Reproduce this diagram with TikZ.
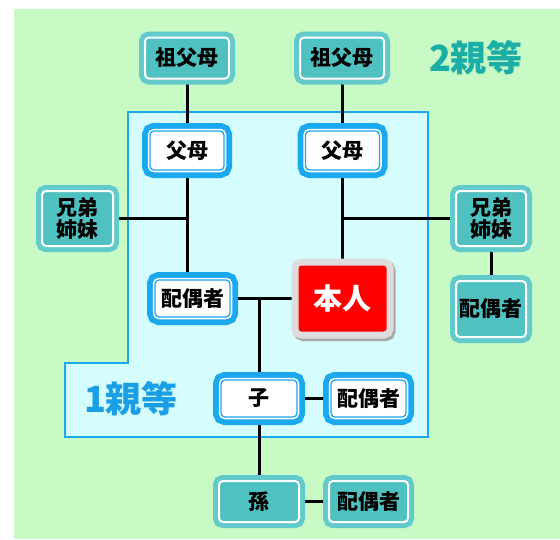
\documentclass[tikz,border=0pt]{standalone}
\usepackage{fontspec}
\newfontfamily\cjk{Noto Sans CJK JP}
\definecolor{bggreen}{HTML}{C8FAC6}
\definecolor{regcyan}{HTML}{D6FDFD}
\definecolor{regblue}{HTML}{1AA8EE}
\definecolor{tealout}{HTML}{62CACA}
\definecolor{tealin}{HTML}{50C1C1}
\definecolor{tealtxt}{HTML}{1AAEA6}
\definecolor{bluetxt}{HTML}{1A9EE6}
\definecolor{boxgray}{HTML}{DDDDDD}
\definecolor{shadowgray}{HTML}{A8A8A8}
\pgfdeclarelayer{bg}
\pgfsetlayers{bg,main}
\tikzset{
  lbl/.style={font=\cjk\bfseries\fontsize{21}{22}\selectfont, align=center, inner sep=0pt},
  tealbox/.style={lbl, rounded corners=4pt, fill=tealin, draw=white, line width=2pt,
    preaction={draw=tealout, line width=12pt}},
  bluebox/.style={lbl, rounded corners=4pt, fill=white, draw=regblue, line width=1.3pt,
    preaction={draw=regblue, line width=16pt},
    preaction={draw=white, line width=4.5pt}},
  selfbox/.style={font=\cjk\bfseries\fontsize{29}{30}\selectfont, text=white, inner sep=0pt,
    rounded corners=3pt, fill=red,
    preaction={draw=shadowgray, line width=14pt, transform canvas={xshift=2pt,yshift=-2.5pt}},
    preaction={draw=boxgray, line width=14pt}},
  conn/.style={line width=3pt, black},
  deg/.style={font=\cjk\bfseries\fontsize{36}{38}\selectfont, inner sep=0pt}
}
\begin{document}
\begin{tikzpicture}[x=1pt,y=-1pt]
\useasboundingbox (0,0) rectangle (560,539);
% nodes
\node[tealbox, minimum width=84pt, minimum height=41pt] (gpL) at (187,58) {祖父母};
\node[tealbox, minimum width=84pt, minimum height=41pt] (gpR) at (342,58) {祖父母};
\node[bluebox, minimum width=74pt, minimum height=39pt] (pL) at (187,150.5) {父母};
\node[bluebox, minimum width=74pt, minimum height=39pt] (pR) at (342.5,150.5) {父母};
\node[tealbox, minimum width=71pt, minimum height=55pt] (sibL) at (77.5,218.5) {兄弟\\姉妹};
\node[tealbox, minimum width=70pt, minimum height=55pt] (sibR) at (491,218.5) {兄弟\\姉妹};
\node[tealbox, minimum width=70pt, minimum height=56pt] (spSib) at (491,309) {配偶者};
\node[selfbox, minimum width=88pt, minimum height=66pt] (self) at (342.5,298.5) {本人};
\node[bluebox, minimum width=75pt, minimum height=37pt] (spL) at (192.5,298.5) {配偶者};
\node[bluebox, minimum width=76pt, minimum height=37pt] (ko) at (259,398.5) {子};
\node[bluebox, minimum width=75pt, minimum height=37pt] (spKo) at (368.5,398.5) {配偶者};
\node[tealbox, minimum width=80pt, minimum height=41pt] (mago) at (259,501.5) {孫};
\node[tealbox, minimum width=79pt, minimum height=41pt] (spMago) at (368.5,501.5) {配偶者};
\node[deg, text=tealtxt] (deg2) at (476,58) {2親等};
\node[deg, text=bluetxt] (deg1) at (131,399) {1親等};
% background, region and connectors
\begin{pgfonlayer}{bg}
  \fill[bggreen] (14,9) rectangle (560,539);
  \draw[fill=regcyan, draw=regblue, line width=2.5pt]
    (128,112) -- (428,112) -- (428,437) -- (65,437) -- (65,363) -- (128,363) -- cycle;
  \draw[conn] (pL) -- (pL |- gpL);
  \draw[conn] (pL) -- (pL |- spL);
  \draw[conn] (sibL) -- (sibL -| pL);
  \draw[conn] (pR) -- (pR |- gpR);
  \draw[conn] (pR) -- (pR |- self);
  \draw[conn] (sibR) -- (sibR -| pR);
  \draw[conn] (sibR) -- (spSib);
  \draw[conn] (spL) -- (self);
  \draw[conn] (ko) -- (ko |- spL);
  \draw[conn] (ko) -- (mago);
  \draw[conn] (ko) -- (spKo);
  \draw[conn] (mago) -- (spMago);
\end{pgfonlayer}
\end{tikzpicture}
\end{document}
